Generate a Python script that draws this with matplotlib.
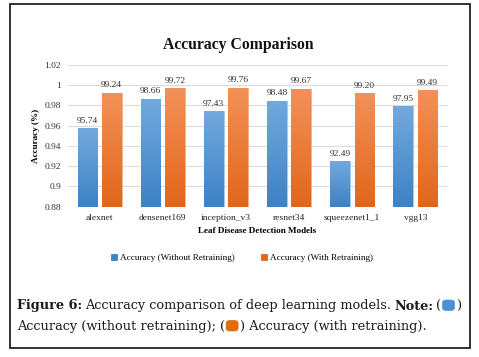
import numpy as np
import matplotlib
matplotlib.use("Agg")
import matplotlib.pyplot as plt
from matplotlib.patches import Rectangle, FancyBboxPatch
from matplotlib.colors import LinearSegmentedColormap

models = ["alexnet", "densenet169", "inception_v3", "resnet34", "squeezenet1_1", "vgg13"]
acc_without = [95.74, 98.66, 97.43, 98.48, 92.49, 97.95]
acc_with = [99.24, 99.72, 99.76, 99.67, 99.20, 99.49]
y_ticks = [0.88, 0.90, 0.92, 0.94, 0.96, 0.98, 1.00, 1.02]
y_tick_labels = ["0.88", "0.9", "0.92", "0.94", "0.96", "0.98", "1", "1.02"]
series_names = ["Accuracy (Without Retraining)", "Accuracy (With Retraining)"]

W, H = 479, 357
fig = plt.figure(figsize=(W / 100, H / 100), dpi=100)
fig.patch.set_facecolor("white")

SERIF = ["Liberation Serif", "DejaVu Serif"]
FS = 6.6

# outer frame
fig.add_artist(Rectangle((9.5 / W, 1 - 348 / H), (469.5 - 9.5) / W, (348 - 4) / H,
                         transform=fig.transFigure, fill=False, edgecolor="#222222", lw=1.3))

ax = fig.add_axes([68 / W, 1 - 206.7 / H, (447 - 68) / W, (206.7 - 65) / H])
ax.set_facecolor("white")

x = np.arange(len(models))
bw = 0.31
gap = 0.075
blue_top, blue_bot = "#72a9de", "#3d82c6"
orange_top, orange_bot = "#f39158", "#e2661a"

vals_wo = [v / 100 for v in acc_without]
vals_w = [v / 100 for v in acc_with]
b1 = ax.bar(x - (bw + gap) / 2, vals_wo, width=bw, bottom=0, color=blue_bot,
            edgecolor="#a9cbec", lw=0.6, zorder=2, label=series_names[0])
b2 = ax.bar(x + (bw + gap) / 2, vals_w, width=bw, bottom=0, color=orange_bot,
            edgecolor="#f6b38c", lw=0.6, zorder=2, label=series_names[1])

ymin, ymax = 0.88, 1.02
grad = np.linspace(1, 0, 64).reshape(-1, 1)
for bars, top, bot in [(b1, blue_top, blue_bot), (b2, orange_top, orange_bot)]:
    cmap = LinearSegmentedColormap.from_list("g", [bot, top])
    for p in bars:
        x0, w, h = p.get_x(), p.get_width(), p.get_height()
        im = ax.imshow(grad, cmap=cmap, extent=[x0, x0 + w, ymin, h],
                       aspect="auto", zorder=2.5, vmin=0, vmax=1, origin="upper")
        im.set_clip_path(p)

for bars, vals in [(b1, acc_without), (b2, acc_with)]:
    for p, v in zip(bars, vals):
        ax.annotate(f"{v:.2f}", (p.get_x() + p.get_width() / 2, p.get_height()),
                    xytext=(0, 2.5), textcoords="offset points", ha="center", va="bottom",
                    fontsize=FS + 0.2, family=SERIF, color="#333333")

ax.set_xlim(-0.5, len(models) - 0.5)
ax.set_ylim(ymin, ymax)
ax.set_yticks(y_ticks)
ax.set_yticklabels(y_tick_labels, fontsize=FS + 0.2, family=SERIF, color="#333333")
ax.set_xticks(x)
ax.set_xticklabels(models, fontsize=FS + 0.2, family=SERIF, color="#222222")
ax.tick_params(length=0, pad=5)
ax.yaxis.grid(True, color="#dcdcdc", lw=0.8, zorder=0)
ax.set_axisbelow(True)
for s in ax.spines.values():
    s.set_visible(False)

ax.set_ylabel("Accuracy (%)", fontsize=FS, family=SERIF, fontweight="bold", labelpad=3)
ax.set_xlabel("Leaf Disease Detection Models", fontsize=FS, family=SERIF, fontweight="bold",
              labelpad=4)
fig.text(238 / W, 1 - 45 / H, "Accuracy Comparison", ha="center", va="center",
         fontsize=11.3, family=SERIF, fontweight="bold", color="#111111")

leg = fig.legend(handles=[b1, b2], labels=series_names, loc="center",
                 bbox_to_anchor=(242 / W, 1 - 258 / H), ncol=2, frameon=False,
                 prop={"family": SERIF, "size": FS}, handlelength=0.65, handleheight=0.65,
                 columnspacing=2.8, handletextpad=0.4)
for hnd, c in zip(leg.legend_handles, [blue_bot, orange_bot]):
    hnd.set_facecolor(c)
    hnd.set_edgecolor(c)

# caption
renderer = fig.canvas.get_renderer()
CAP = dict(fontsize=9.25, family=["DejaVu Serif"], color="#1a1a1a", va="baseline")


def put(px, py, s, **kw):
    t = fig.text(px / W, 1 - py / H, s, **{**CAP, **kw})
    bb = t.get_window_extent(renderer)
    return px + bb.width


def swatch(px, base, color):
    fig.add_artist(FancyBboxPatch((px / W, 1 - (base + 1) / H), 12 / W, 10.5 / H,
                                  boxstyle="round,pad=0.0,rounding_size=0.008",
                                  transform=fig.transFigure, facecolor=color,
                                  edgecolor=color, lw=0.5))
    return px + 13


y1, y2 = 309.5, 330
px = 17
px = put(px, y1, "Figure 6:", fontweight="semibold")
px = put(px + 3, y1, "Accuracy comparison of deep learning models.")
px = put(px + 3, y1, "Note:", fontweight="semibold")
px = put(px + 3, y1, "(")
px = swatch(px + 1, y1, "#4b8fd5")
px = put(px + 1, y1, ")")
px = 17
px = put(px, y2, "Accuracy (without retraining); (")
px = swatch(px + 1, y2, "#e36c0a")
px = put(px + 1, y2, ") Accuracy (with retraining).")

fig.savefig("out.png", dpi=100, facecolor="white")
